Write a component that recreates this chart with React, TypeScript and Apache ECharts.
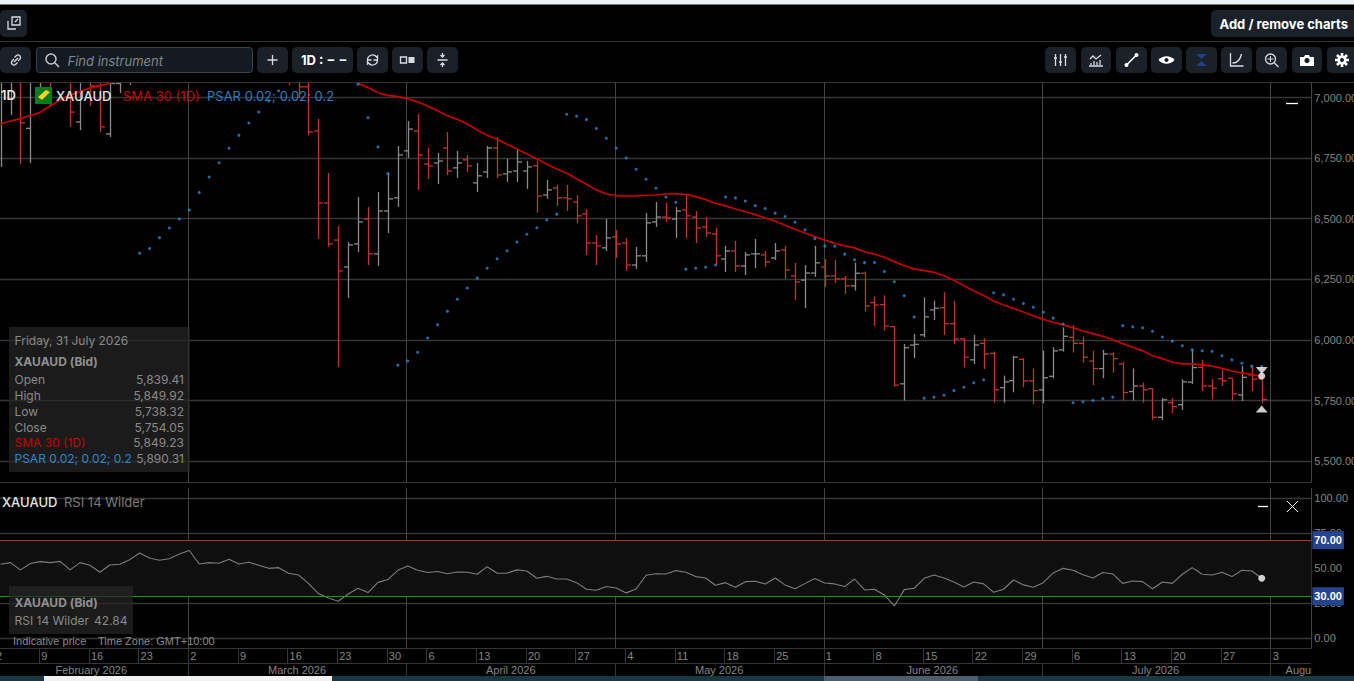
import React, { useEffect, useRef } from "react";
import * as echarts from "echarts";

const opens = [
  7100, 7180, 7300, 6873, 7150, 7300, 7120, 7300, 6899, 7100,
  7048, 6850, 7058, 7140, 7200, 7280, 7350, 7450, 7400, 7560,
  7680, 7400, 7450, 7430, 7560, 7400, 7440, 7280, 7200, 7120,
  7100, 7044, 6862, 6565, 6412, 6301, 6396, 6499, 6355, 6532,
  6586, 6780, 6862, 6726, 6730, 6792, 6710, 6743, 6648, 6693,
  6792, 6685, 6697, 6697, 6718, 6598, 6627, 6586, 6569, 6520,
  6400, 6380, 6425, 6400, 6309, 6347, 6487, 6507, 6499, 6536,
  6507, 6466, 6437, 6334, 6367, 6305, 6355, 6351, 6338, 6371,
  6264, 6247, 6276, 6301, 6264, 6252, 6223, 6275, 6154, 6146,
  6055, 5819, 5979, 6021, 6124, 6133, 6067, 6005, 5918, 5986,
  5945, 5803, 5832, 5920, 5831, 5794, 5850, 5959, 6011, 5986,
  5913, 5882, 5942, 5901, 5787, 5810, 5799, 5681, 5741, 5733,
  5826, 5887, 5810, 5840, 5842, 5773, 5856, 5839.41,
];
const highs = [
  7300, 7350, 7350, 7200, 7300, 7350, 7400, 7350, 7200, 7250,
  7300, 7100, 7200, 7250, 7320, 7400, 7480, 7520, 7600, 7720,
  7700, 7500, 7520, 7600, 7600, 7500, 7480, 7350, 7300, 7240,
  7250, 7120, 6912, 6689, 6470, 6404, 6590, 6549, 6610, 6689,
  6800, 6903, 6932, 6792, 6771, 6858, 6780, 6763, 6730, 6800,
  6837, 6747, 6784, 6738, 6738, 6660, 6639, 6639, 6598, 6540,
  6433, 6499, 6454, 6421, 6384, 6524, 6569, 6565, 6549, 6598,
  6532, 6507, 6462, 6388, 6408, 6363, 6417, 6367, 6400, 6388,
  6318, 6309, 6388, 6334, 6330, 6264, 6319, 6282, 6179, 6184,
  6058, 5983, 6025, 6176, 6162, 6197, 6161, 6007, 6021, 6007,
  5952, 5853, 5934, 5925, 5883, 5956, 5970, 6052, 6061, 6014,
  5956, 5959, 5949, 5910, 5883, 5824, 5801, 5760, 5760, 5838,
  5962, 5918, 5838, 5880, 5842, 5893, 5893, 5849.92,
];
const lows = [
  6714, 6928, 6726, 6730, 6990, 6961, 7080, 6879, 6866, 6965,
  6858, 6837, 7019, 7052, 7120, 7200, 7300, 7340, 7380, 7500,
  7350, 7300, 7380, 7400, 7350, 7350, 7250, 7150, 7090, 7052,
  6998, 6846, 6417, 6384, 5889, 6173, 6363, 6309, 6305, 6441,
  6549, 6751, 6619, 6664, 6643, 6681, 6668, 6693, 6610, 6668,
  6668, 6652, 6652, 6623, 6524, 6582, 6553, 6532, 6483, 6351,
  6309, 6367, 6338, 6285, 6293, 6322, 6466, 6487, 6421, 6421,
  6400, 6425, 6313, 6280, 6280, 6268, 6297, 6301, 6330, 6252,
  6165, 6132, 6260, 6219, 6235, 6190, 6203, 6117, 6058, 6038,
  5807, 5750, 5925, 6011, 6082, 6021, 5983, 5887, 5901, 5880,
  5741, 5741, 5784, 5805, 5735, 5739, 5842, 5952, 5948, 5906,
  5814, 5842, 5865, 5750, 5750, 5741, 5670, 5670, 5698, 5711,
  5819, 5790, 5755, 5810, 5750, 5748, 5790, 5738.32,
];
const closes = [
  7250, 7300, 6896, 7150, 7250, 7100, 7300, 6940, 7100, 7048,
  6879, 7058, 7150, 7200, 7280, 7350, 7450, 7400, 7560, 7680,
  7400, 7450, 7430, 7560, 7400, 7440, 7280, 7200, 7120, 7080,
  7044, 6858, 6565, 6396, 6285, 6392, 6487, 6355, 6532, 6582,
  6763, 6870, 6763, 6718, 6738, 6697, 6730, 6718, 6677, 6792,
  6681, 6693, 6734, 6714, 6594, 6619, 6586, 6582, 6512, 6400,
  6388, 6421, 6396, 6309, 6347, 6483, 6507, 6503, 6532, 6512,
  6462, 6441, 6347, 6367, 6305, 6351, 6355, 6322, 6367, 6289,
  6239, 6276, 6318, 6264, 6252, 6223, 6275, 6140, 6144, 6058,
  5814, 5968, 5982, 6095, 6131, 6067, 6004, 5929, 5979, 5942,
  5795, 5827, 5929, 5831, 5791, 5844, 5955, 6015, 5986, 5929,
  5882, 5942, 5923, 5783, 5810, 5794, 5681, 5753, 5725, 5827,
  5886, 5810, 5801, 5831, 5778, 5846, 5838, 5754.05,
];
const sma30 = [
  6891, 6903, 6913, 6926, 6939, 6965, 6990, 7011, 7024, 7040,
  7048, 7059, 7075, 7100, 7120, 7145, 7170, 7195, 7220, 7245,
  7265, 7280, 7295, 7305, 7310, 7310, 7305, 7295, 7280, 7260,
  7235, 7200, 7170, 7140, 7115, 7090, 7059, 7041, 7020, 7009,
  7004, 6995, 6982, 6965, 6946, 6925, 6910, 6891, 6866, 6844,
  6828, 6807, 6788, 6767, 6747, 6725, 6705, 6688, 6665, 6642,
  6619, 6602, 6595, 6593, 6594, 6597, 6598, 6602, 6603, 6601,
  6591, 6579, 6564, 6553, 6540, 6529, 6517, 6503, 6490, 6473,
  6457, 6441, 6426, 6412, 6399, 6388, 6380, 6364, 6354, 6341,
  6323, 6306, 6293, 6286, 6279, 6265, 6246, 6224, 6203, 6183,
  6161, 6144, 6131, 6115, 6100, 6085, 6073, 6062, 6050, 6037,
  6026, 6015, 6001, 5985, 5970, 5955, 5935, 5923, 5908, 5901,
  5901, 5897, 5892, 5883, 5872, 5864, 5857, 5849.23,
];
const psar: (number | null)[] = [
  null, null, null, null, null, null, null, null, null, null,
  null, null, null, null, 6358, 6377, 6422, 6462, 6499, 6536,
  6608, 6672, 6731, 6791, 6844, 6895, 6940, 6987, 7028, null,
  null, null, null, null, null, null, 7055, 6917, 6796, 6686,
  5896, 5913, 5949, 6008, 6063, 6118, 6168, 6214, 6255, 6296,
  6335, 6368, 6404, 6436, 6463, 6495, 6519, 6931, 6923, 6909,
  6872, 6832, 6791, 6751, 6704, 6663, 6626, 6590, 6568, 6292,
  6296, 6300, 6309, 6590, 6586, 6573, 6554, 6542, 6523, 6509,
  6486, 6454, 6418, 6387, 6387, 6354, 6331, 6319, 6319, 6282,
  6240, 6182, 6095, 5760, 5764, 5772, 5791, 5805, 5823, 5836,
  6195, 6186, 6168, 6150, 6135, 6114, 6090, 6066, 5741, 5745,
  5750, 5758, 5764, 6059, 6054, 6050, 6036, 6012, 5995, 5976,
  5959, 5955, 5953, 5935, 5918, 5904, 5892, 5890.31,
];
const rsi14 = [
  52.8, 54.0, 48.8, 53.3, 54.7, 54.0, 54.9, 48.8, 54.0, 52.1,
  47.1, 52.3, 52.8, 56.1, 60.9, 57.3, 55.7, 56.8, 60.2, 62.6,
  53.0, 54.0, 53.5, 56.4, 53.0, 54.2, 52.1, 49.9, 50.4, 46.4,
  45.2, 39.2, 31.9, 28.8, 26.4, 31.6, 35.7, 32.6, 39.9, 41.9,
  48.5, 51.6, 48.5, 46.9, 47.6, 46.1, 47.3, 47.1, 45.7, 51.1,
  46.4, 46.4, 48.8, 48.0, 42.8, 44.2, 42.3, 42.3, 39.7, 35.0,
  34.3, 36.9, 35.9, 32.4, 35.2, 45.0, 46.1, 45.9, 48.3, 47.1,
  44.0, 43.0, 37.8, 39.7, 36.4, 40.4, 40.7, 38.8, 43.0, 38.1,
  35.4, 39.0, 42.6, 39.5, 38.8, 36.9, 42.3, 34.5, 35.0, 30.9,
  23.1, 34.7, 35.7, 42.8, 45.2, 43.0, 40.2, 36.6, 40.2, 38.8,
  32.8, 35.0, 41.6, 38.1, 36.4, 39.7, 46.6, 49.9, 48.5, 45.4,
  43.0, 46.9, 45.9, 39.2, 40.9, 40.4, 35.4, 40.2, 39.2, 45.7,
  50.4, 45.7, 45.2, 47.1, 44.0, 48.5, 48.0, 42.84,
];
const priceTicks = [5500, 5750, 6000, 6250, 6500, 6750, 7000];
const rsiTicks = [0, 25, 50, 75, 100];
const weekLabels = ["2", "9", "16", "23", "2", "9", "16", "23", "30", "6", "13", "20", "27", "4", "11", "18", "25", "1", "8", "15", "22", "29", "6", "13", "20", "27", "3"];
const weekSlots = [-1, 4, 9, 14, 19, 24, 29, 34, 39, 43, 48, 53, 58, 63, 68, 73, 78, 83, 88, 93, 98, 103, 108, 113, 118, 123, 128];
const weekLabelSlots = [-0.56, ...weekSlots.slice(1)];
const monthLabels = ["February 2026", "March 2026", "April 2026", "May 2026", "June 2026", "July 2026", "August 2026"];
const monthSlots = [19, 41, 62, 83, 105, 128];
const monthLabelSlots = [5.63, 27.03, 48.98, 70.03, 91.34, 114.04, 129.5];
const tooltipRows = [
  ["Open", "5,839.41"],
  ["High", "5,849.92"],
  ["Low", "5,738.32"],
  ["Close", "5,754.05"],
];

// business days, Good Friday skipped
function tradingDays(): string[] {
  const out: string[] = [];
  const d = new Date(Date.UTC(2026, 1, 2));
  while (out.length < 134) {
    const w = d.getUTCDay();
    const s = d.toISOString().slice(0, 10);
    if (w !== 0 && w !== 6 && s !== "2026-04-03") out.push(s);
    d.setUTCDate(d.getUTCDate() + 1);
  }
  return out;
}
const categories = tradingDays();

const icons: Record<string, string> = {
  icoExpand: "M6 2h8v8h-8z M9 7l3-3 M2 6v8h8",
  icoLink: "M6.5 5.5l2-2a2.5 2.5 0 0 1 3.5 3.5l-2 2 M9.5 10.5l-2 2a2.5 2.5 0 0 1-3.5-3.5l2-2 M6 10l4-4",
  icoSearch: "M11 11l4 4 M12 7a5 5 0 1 0-10 0a5 5 0 1 0 10 0",
  icoPlus: "M3 8h10 M8 3v10",
  icoRefresh: "M3 8a5 5 0 0 1 9-3l1-1v4h-4 M13 8a5 5 0 0 1-9 3l-1 1v-4h4",
  icoSplitA: "M1 5h6v6h-6z",
  icoSplitB: "M9 5h6v6h-6z",
  icoUpDown: "M8 1v3 M6 3l2 2 2-2 M3 8h10 M8 15v-3 M6 13l2-2 2 2",
  icoSliders: "M3 2v12 M8 2v12 M13 2v12 M1.5 6h3 M6.5 10h3 M11.5 5h3",
  icoChart: "M1 14h14 M2 7l3-3 3 3 5-4 M3 13v-2 M6 13v-4 M9 13v-3 M12 13v-5",
  icoLine: "M3 13L13 3",
  icoEye: "M0 8C4 3 12 3 16 8C12 13 4 13 0 8z",
  icoHour: "M3 2h10l-5 5z M3 14h10l-5-5z",
  icoCurve: "M2 1v13h13 M4 11C9 11 12 7 13 2",
  icoZoomPlus: "M7 4v6 M4 7h6",
  icoCamera: "M1 5h4l1-2h4l1 2h4v9h-14z",
  icoGear: "M8 1v14 M1 8h14 M3 3l10 10 M13 3l-10 10",
};
Object.keys(icons).forEach((k) => {
  echarts.graphic.registerShape(k, echarts.graphic.extendPath(icons[k], {}));
});

const UI = "Inter, 'Noto Sans', sans-serif";
const AX = "'Liberation Sans', Arial, sans-serif";
const BTN = "#1a2129";
const ICON = "#d8dde2";

function text(t: string, x: number, y: number, fill: string, font: string, align = "left") {
  return {
    type: "text",
    x,
    y,
    z: 102,
    silent: true,
    style: { text: t, fill, font, align, verticalAlign: "middle", textAlign: align, textVerticalAlign: "middle" },
  };
}
function rect(x: number, y: number, w: number, h: number, fill: string, r = 0, stroke?: string) {
  return {
    type: "rect",
    z: 100,
    silent: true,
    shape: { x, y, width: w, height: h, r },
    style: { fill, stroke: stroke || "none", lineWidth: stroke ? 1 : 0 },
  };
}
function icon(name: string, x: number, y: number, filled = false, color = ICON, width = 1.3) {
  return {
    type: name,
    x,
    y,
    z: 103,
    silent: true,
    style: filled ? { fill: color, stroke: "none" } : { fill: "none", stroke: color, lineWidth: width },
  };
}
function hline(y: number, x1: number, x2: number, color: string, width = 1) {
  return { type: "line", z: 101, silent: true, shape: { x1, y1: y, x2, y2: y }, style: { stroke: color, lineWidth: width } };
}

function renderOhlc(_p: any, api: any) {
  const i = api.value(0);
  const o = api.value(1);
  const h = api.value(2);
  const l = api.value(3);
  const c = api.value(4);
  const pH = api.coord([i, h]);
  const pL = api.coord([i, l]);
  const pO = api.coord([i, o]);
  const pC = api.coord([i, c]);
  const x = Math.round(pH[0]) + 0.5;
  const color = c >= o ? "#8a8a8a" : "#c4342b";
  const style = { stroke: color, lineWidth: 1.3, fill: "none" };
  return {
    type: "group",
    children: [
      { type: "line", shape: { x1: x, y1: pH[1], x2: x, y2: pL[1] }, style },
      { type: "line", shape: { x1: x - 4.5, y1: pO[1], x2: x, y2: pO[1] }, style },
      { type: "line", shape: { x1: x, y1: pC[1], x2: x + 4.5, y2: pC[1] }, style },
    ],
  };
}

const slotOf = (i: number) => i + 1;
const MARK_LEFT = -9.33;
const LINE_LEFT = -10.33;
const WIDTH = 1320.7;
const GRID_COLOR = "#363636";

function buildOption() {
  const graphic: any[] = [
    rect(0, 0, 1354, 4, "#eef1f7"),
    hline(4.5, 0, 1354, "#777"),
    hline(41.5, 0, 1354, "#343434"),
    hline(82.5, 0, 1354, "#343434"),
    rect(0, 10, 27, 27, BTN, 5),
    icon("icoExpand", 6, 15),
    rect(1211, 10, 150, 27, BTN, 5),
    text("Add / remove charts", 1219.5, 24, "#ffffff", `700 13px ${UI}`),
    rect(0, 47, 31, 26, BTN, 5),
    icon("icoLink", 8, 52),
    rect(36.5, 47.5, 216, 25, "#141a21", 3, "#3b434c"),
    icon("icoSearch", 44, 52, false, "#c5cad0", 1.5),
    { ...text("Find instrument", 67.5, 60.5, "#7f8790", `italic 400 13px ${UI}`) },
    rect(257, 47, 31, 26, BTN, 5),
    icon("icoPlus", 264.5, 52),
    rect(292, 47, 61, 26, BTN, 5),
    text("1D : − −", 301, 60, "#ffffff", `700 13px ${UI}`),
    rect(357, 47, 31, 26, BTN, 5),
    icon("icoRefresh", 364.5, 52),
    rect(392, 47, 31, 26, BTN, 5),
    icon("icoSplitA", 399.5, 52),
    icon("icoSplitB", 399.5, 52, true),
    rect(427, 47, 31, 26, BTN, 5),
    icon("icoUpDown", 434.5, 52),
    rect(1045, 47, 31, 26, BTN, 5),
    icon("icoSliders", 1052.5, 52),
    rect(1081, 47, 30, 26, BTN, 5),
    icon("icoChart", 1088, 52),
    rect(1116, 47, 31, 26, BTN, 5),
    icon("icoLine", 1123.5, 52, false, "#ffffff", 1.6),
    { type: "circle", z: 103, silent: true, shape: { cx: 1126.5, cy: 65, r: 2 }, style: { fill: "#fff" } },
    { type: "circle", z: 103, silent: true, shape: { cx: 1136.5, cy: 55, r: 2 }, style: { fill: "#fff" } },
    rect(1151, 47, 31, 26, BTN, 5),
    icon("icoEye", 1158.5, 52, true, "#ffffff"),
    { type: "circle", z: 104, silent: true, shape: { cx: 1166.5, cy: 60, r: 2 }, style: { fill: "#1a2129" } },
    rect(1186, 47, 31, 26, BTN, 5),
    icon("icoHour", 1193.5, 52, true, "#22428c"),
    rect(1221, 47, 31, 26, BTN, 5),
    icon("icoCurve", 1228.5, 52),
    rect(1256, 47, 31, 26, BTN, 5),
    icon("icoSearch", 1263.5, 52),
    icon("icoZoomPlus", 1263.5, 52, false, ICON, 1),
    rect(1292, 47, 30, 26, BTN, 5),
    icon("icoCamera", 1299, 52, true, "#ffffff"),
    { type: "circle", z: 104, silent: true, shape: { cx: 1307, cy: 60.5, r: 2.6 }, style: { fill: "#1a2129" } },
    rect(1327, 47, 31, 26, BTN, 5),
    icon("icoGear", 1334, 52, false, "#ffffff", 2.6),
    { type: "circle", z: 104, silent: true, shape: { cx: 1342, cy: 60, r: 4.6 }, style: { fill: "#fff" } },
    { type: "circle", z: 105, silent: true, shape: { cx: 1342, cy: 60, r: 2 }, style: { fill: "#1a2129" } },

    // legend
    text("1D", 1, 95, "#e8e8e8", `600 13px ${UI}`),
    rect(35, 87, 17, 17, "#0b7a1f"),
    { type: "polygon", z: 101, silent: true, shape: { points: [[38, 97], [46, 90], [50, 92], [42, 100]] }, style: { fill: "#f3d624" } },
    text("XAUAUD", 56, 95.5, "#e4e4e4", `500 13px ${UI}`),
    text("SMA 30 (1D)", 123, 95.5, "#c80000", `400 13px ${UI}`),
    text("PSAR 0.02; 0.02; 0.2", 207, 95.5, "#2a7fc4", `400 13px ${UI}`),
    hline(103.5, 1286, 1298, "#ffffff", 1.3),

    // price read-out
    rect(9, 327, 181, 145, "rgba(38,38,38,0.72)"),
    text("Friday, 31 July 2026", 14.5, 340.5, "#8a8a8a", `400 12px ${UI}`),
    text("XAUAUD (Bid)", 14.5, 361.5, "#8f8f8f", `700 12px ${UI}`),
    ...tooltipRows.flatMap((row, n) => [
      text(row[0], 14.5, 379.5 + n * 16, "#8a8a8a", `400 12px ${UI}`),
      text(row[1], 184, 379.5 + n * 16, "#8a8a8a", `400 12px ${UI}`, "right"),
    ]),
    text("SMA 30 (1D)", 14.5, 442.5, "#c80000", `400 12px ${UI}`),
    text("5,849.23", 184, 442.5, "#8a8a8a", `400 12px ${UI}`, "right"),
    text("PSAR 0.02; 0.02; 0.2", 14.5, 458.5, "#2a86d0", `400 12px ${UI}`),
    text("5,890.31", 184, 458.5, "#8a8a8a", `400 12px ${UI}`, "right"),

    // RSI pane texts
    text("XAUAUD", 2, 501.5, "#e4e4e4", `500 13px ${UI}`),
    text("RSI 14 Wilder", 64, 501.5, "#7c7c7c", `400 13px ${UI}`),
    hline(506.5, 1258, 1268, "#ffffff", 1.3),
    { type: "line", z: 101, silent: true, shape: { x1: 1287, y1: 501, x2: 1298, y2: 512 }, style: { stroke: "#fff", lineWidth: 1 } },
    { type: "line", z: 101, silent: true, shape: { x1: 1298, y1: 501, x2: 1287, y2: 512 }, style: { stroke: "#fff", lineWidth: 1 } },
    rect(9, 586, 124, 48, "rgba(38,38,38,0.72)"),
    text("XAUAUD (Bid)", 14.5, 602.5, "#8f8f8f", `700 12px ${UI}`),
    text("RSI 14 Wilder", 14.5, 620.5, "#8a8a8a", `400 12px ${UI}`),
    text("42.84", 127.5, 620.5, "#8a8a8a", `400 12px ${UI}`, "right"),
    text("Indicative price", 13, 641, "#8a8a8a", `400 11px ${AX}`),
    text("Time Zone: GMT+10:00", 98, 641, "#8a8a8a", `400 11px ${AX}`),

    // masks and footer
    rect(1312, 648, 42, 28, "#000000"),
    rect(0, 676, 1354, 5, "#1a3742"),
    rect(44, 676, 288, 5, "#f2f2f2"),
    rect(824, 676, 154, 5, "#4b5f6b"),
  ];

  const xOverlay = (gridIndex: number, position: string) => ({
    type: "value",
    gridIndex,
    min: -1,
    max: 132,
    position,
    axisLine: { show: true, lineStyle: { color: GRID_COLOR } },
    axisLabel: { show: false },
    axisTick: { show: false, customValues: monthSlots },
    splitLine: { show: true, lineStyle: { color: "#444", width: 1 } },
  });
  const hiddenY = (gridIndex: number) => ({ type: "value", gridIndex, show: false, min: 0, max: 1, splitLine: { show: false } });

  const axisText = { color: "#858585", fontSize: 11, fontFamily: AX };
  const gridBase = { outerBoundsMode: "none", containLabel: false };

  return {
    animation: false,
    backgroundColor: "#000000",
    grid: [
      { ...gridBase, left: MARK_LEFT, top: 83, width: WIDTH, height: 399 },
      { ...gridBase, left: MARK_LEFT, top: 488.3, width: WIDTH, height: 160 },
      { ...gridBase, left: LINE_LEFT, top: 83, width: WIDTH, height: 399 },
      { ...gridBase, left: LINE_LEFT, top: 488.3, width: WIDTH, height: 160 },
      { ...gridBase, left: LINE_LEFT, top: 648.3, width: WIDTH, height: 15 },
      { ...gridBase, left: LINE_LEFT, top: 663.3, width: WIDTH, height: 13 },
    ],
    xAxis: [
      { type: "category", gridIndex: 0, data: categories, boundaryGap: false, show: false },
      { type: "category", gridIndex: 1, data: categories, boundaryGap: false, show: false },
      xOverlay(2, "bottom"),
      xOverlay(3, "top"),
      {
        type: "value",
        gridIndex: 4,
        min: -1,
        max: 132,
        position: "top",
        axisLine: { show: true, lineStyle: { color: GRID_COLOR } },
        axisTick: { show: false, customValues: weekSlots },
        splitLine: { show: true, lineStyle: { color: GRID_COLOR } },
        axisLabel: {
          ...axisText,
          inside: true,
          margin: 2,
          align: "left",
          verticalAlign: "top",
          padding: [0, 0, 0, 2],
          customValues: weekLabelSlots,
          formatter: (v: number) => weekLabels[weekLabelSlots.indexOf(v)],
        },
      },
      {
        type: "value",
        gridIndex: 5,
        min: -1,
        max: 132,
        position: "top",
        axisLine: { show: true, lineStyle: { color: GRID_COLOR } },
        axisTick: { show: false, customValues: monthSlots },
        splitLine: { show: true, lineStyle: { color: GRID_COLOR } },
        axisLabel: {
          ...axisText,
          inside: true,
          margin: 1,
          align: "left",
          verticalAlign: "top",
          customValues: monthLabelSlots,
          formatter: (v: number) => monthLabels[monthLabelSlots.indexOf(v)],
        },
      },
    ],
    yAxis: [
      {
        type: "value",
        gridIndex: 0,
        position: "right",
        min: 5414,
        max: 7060,
        axisLine: { show: true, lineStyle: { color: "#444" } },
        axisTick: { show: false, customValues: priceTicks },
        splitLine: { show: true, lineStyle: { color: GRID_COLOR, width: 1.4 } },
        axisLabel: {
          ...axisText,
          margin: 3,
          padding: [0, 0, 3, 0],
          customValues: priceTicks,
          formatter: (v: number) => v.toLocaleString("en-US", { minimumFractionDigits: 2 }),
        },
      },
      {
        type: "value",
        gridIndex: 1,
        position: "right",
        min: -7.13,
        max: 107,
        axisLine: { show: true, lineStyle: { color: "#444" } },
        axisTick: { show: false, customValues: rsiTicks },
        splitLine: { show: true, lineStyle: { color: GRID_COLOR, width: 1.4 } },
        axisLabel: {
          ...axisText,
          margin: 3,
          padding: [0, 0, 2, 0],
          customValues: rsiTicks,
          formatter: (v: number) => v.toFixed(2),
        },
      },
      hiddenY(2),
      hiddenY(3),
      hiddenY(4),
      hiddenY(5),
    ],
    series: [
      {
        type: "custom",
        name: "XAUAUD",
        xAxisIndex: 0,
        yAxisIndex: 0,
        clip: true,
        renderItem: renderOhlc,
        encode: { x: 0, y: [1, 2, 3, 4] },
        data: opens.map((o, i) => [slotOf(i), o, highs[i], lows[i], closes[i]]),
        z: 3,
      },
      {
        type: "line",
        name: "SMA 30 (1D)",
        xAxisIndex: 0,
        yAxisIndex: 0,
        showSymbol: false,
        symbol: "none",
        lineStyle: { color: "#c80000", width: 1.7 },
        data: sma30.map((v, i) => [slotOf(i), v]),
        z: 4,
      },
      {
        type: "scatter",
        name: "PSAR",
        xAxisIndex: 0,
        yAxisIndex: 0,
        symbolSize: 3,
        itemStyle: { color: "#2a8ad8" },
        data: psar.map((v, i) => [slotOf(i), v]).filter((p) => p[1] !== null),
        z: 4,
      },
      {
        type: "scatter",
        name: "last",
        xAxisIndex: 0,
        yAxisIndex: 0,
        symbol: "circle",
        symbolSize: 7,
        itemStyle: { color: "#ffffff" },
        data: [[slotOf(127), 5851]],
        z: 6,
      },
      {
        type: "scatter",
        name: "sar-down",
        xAxisIndex: 0,
        yAxisIndex: 0,
        symbol: "triangle",
        symbolRotate: 180,
        symbolSize: [12, 7],
        itemStyle: { color: "#ffffff" },
        data: [[slotOf(127), 5874]],
        z: 6,
      },
      {
        type: "scatter",
        name: "sar-up",
        xAxisIndex: 0,
        yAxisIndex: 0,
        symbol: "triangle",
        symbolSize: [12, 7],
        itemStyle: { color: "#ffffff" },
        data: [[slotOf(127), 5715]],
        z: 6,
      },
      {
        type: "line",
        name: "RSI 14 Wilder",
        xAxisIndex: 1,
        yAxisIndex: 1,
        showSymbol: false,
        symbol: "none",
        lineStyle: { color: "#7d7d7d", width: 1.1 },
        data: rsi14.map((v, i) => [slotOf(i), v]),
        z: 4,
        markArea: {
          silent: true,
          itemStyle: { color: "#0f0f0f" },
          data: [[{ yAxis: 30 }, { yAxis: 70 }]],
        },
        markLine: {
          silent: true,
          symbol: "none",
          animation: false,
          data: [
            { yAxis: 70, lineStyle: { color: "#b5342c", width: 1.2, type: "solid" } },
            { yAxis: 30, lineStyle: { color: "#12a012", width: 1.2, type: "solid" } },
          ],
          label: {
            show: true,
            position: "end",
            distance: 1,
            color: "#ffffff",
            fontFamily: AX,
            fontSize: 11,
            fontWeight: 700,
            backgroundColor: "#25448f",
            padding: [4, 2, 3, 2],
            formatter: (p: any) => Number(p.value).toFixed(2),
          },
        },
      },
      {
        type: "scatter",
        name: "rsi-last",
        xAxisIndex: 1,
        yAxisIndex: 1,
        symbolSize: 7,
        itemStyle: { color: "#ffffff" },
        data: [[slotOf(127), rsi14[127]]],
        z: 6,
      },
    ],
    graphic: { elements: graphic },
  };
}

export default function App() {
  const ref = useRef<HTMLDivElement>(null);
  useEffect(() => {
    document.body.style.margin = "0";
    document.body.style.background = "#000";
    const chart = echarts.init(ref.current!, undefined, { renderer: "svg" });
    chart.setOption(buildOption() as any);
    return () => chart.dispose();
  }, []);
  return <div ref={ref} style={{ position: "absolute", left: 0, top: 0, width: 1354, height: 681 }} />;
}
